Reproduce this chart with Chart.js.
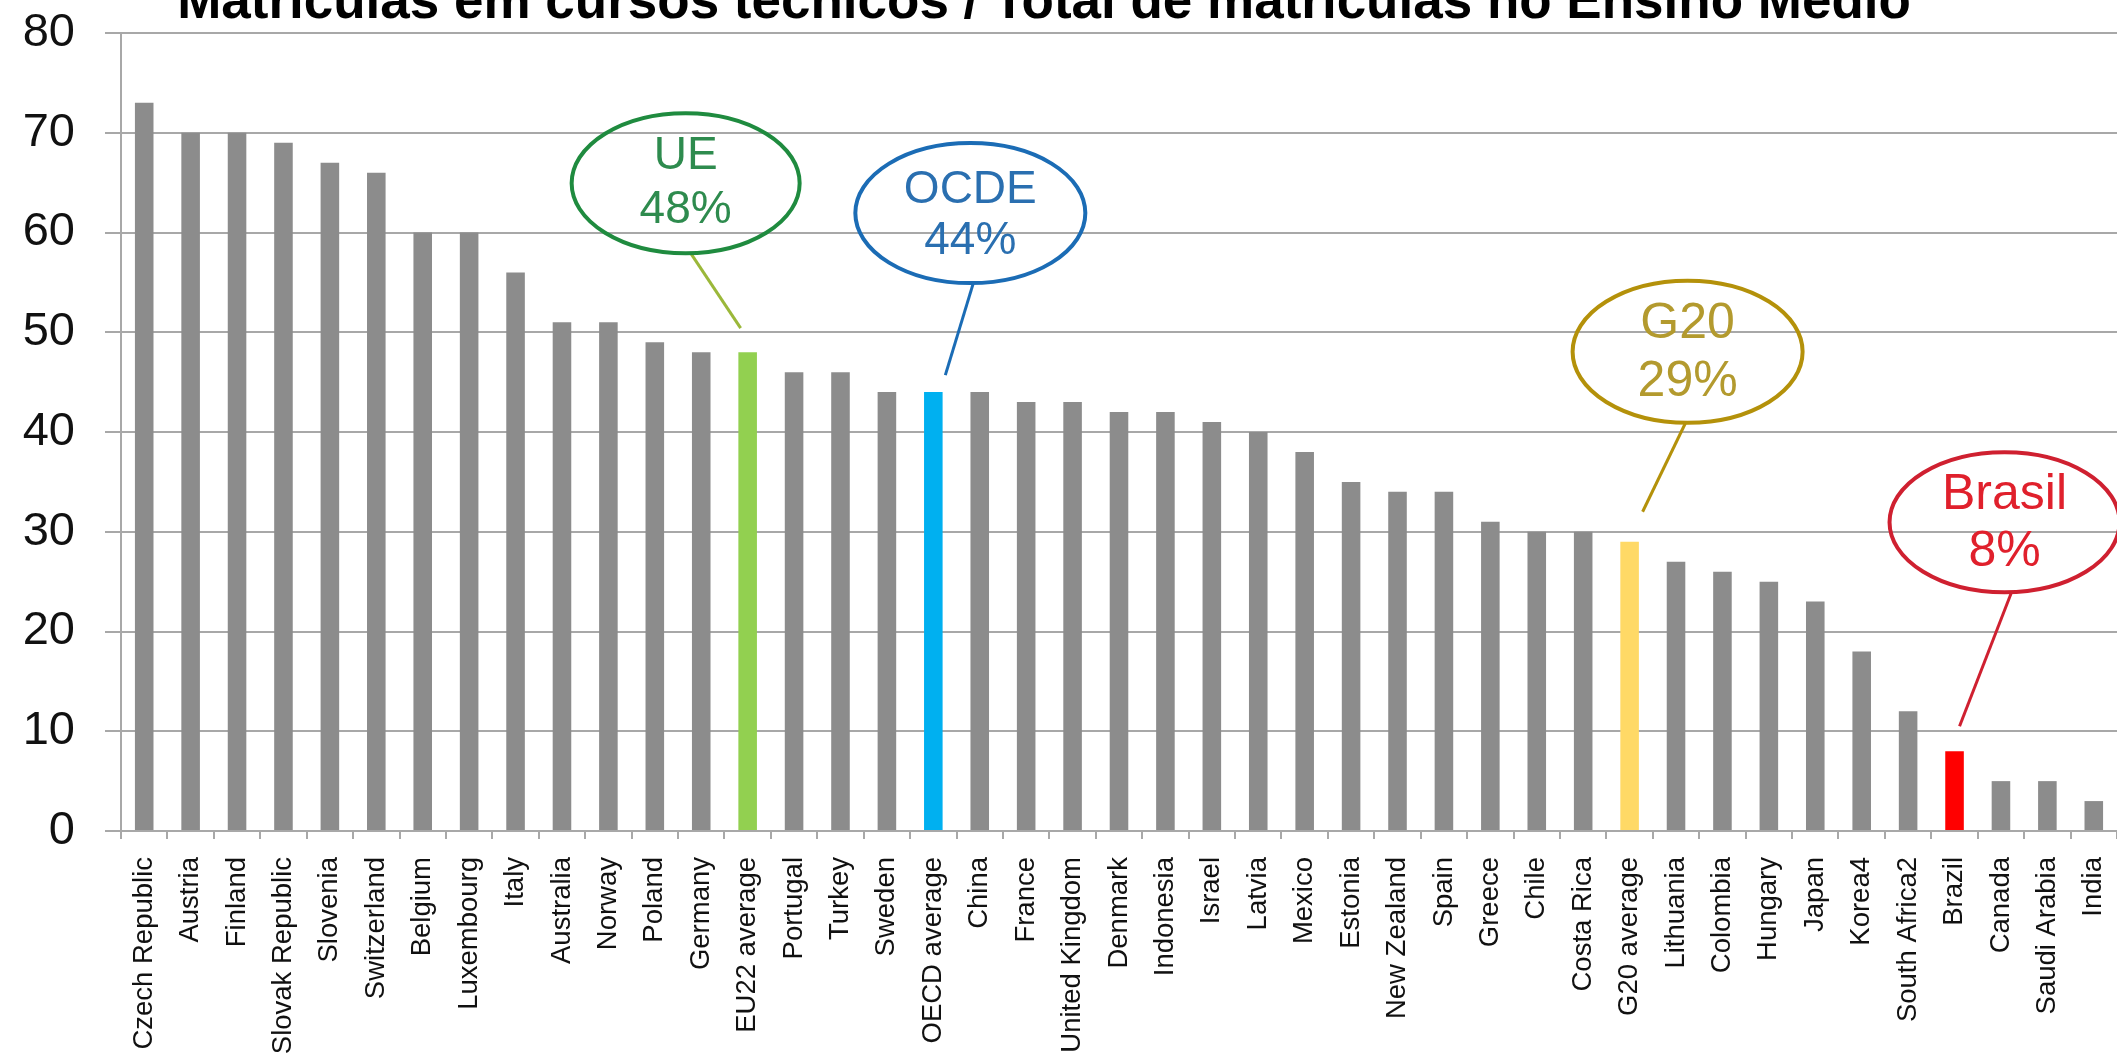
<!DOCTYPE html>
<html>
<head>
<meta charset="utf-8">
<script src="https://cdn.jsdelivr.net/npm/chart.js@4.4.1/dist/chart.umd.min.js"></script>
<style>
  html, body { margin: 0; padding: 0; background: #fff; overflow: hidden; }
  #wrap { width: 2117px; height: 1061px; position: relative; }
</style>
</head>
<body>
<div id="wrap"><canvas id="myChart"></canvas></div>
<script>
var chartTitle = 'Matrículas em cursos técnicos / Total de matrículas no Ensino Médio';

var categories = ['Czech Republic', 'Austria', 'Finland', 'Slovak Republic', 'Slovenia', 'Switzerland',
    'Belgium', 'Luxembourg', 'Italy', 'Australia', 'Norway', 'Poland', 'Germany', 'EU22 average',
    'Portugal', 'Turkey', 'Sweden', 'OECD average', 'China', 'France', 'United Kingdom', 'Denmark',
    'Indonesia', 'Israel', 'Latvia', 'Mexico', 'Estonia', 'New Zealand', 'Spain', 'Greece', 'Chile',
    'Costa Rica', 'G20 average', 'Lithuania', 'Colombia', 'Hungary', 'Japan', 'Korea4',
    'South Africa2', 'Brazil', 'Canada', 'Saudi Arabia', 'India'];

var values = [73, 70, 70, 69, 67, 66, 60, 60, 56, 51, 51, 49, 48, 48, 46, 46, 44, 44, 44, 43, 43,
    42, 42, 41, 40, 38, 35, 34, 34, 31, 30, 30, 29, 27, 26, 25, 23, 18, 12, 8, 5, 5, 3];

var yTicks = [0, 10, 20, 30, 40, 50, 60, 70, 80];

// highlighted bars
var highlightNames = ['EU22 average', 'OECD average', 'G20 average', 'Brazil'];
var highlightColors = ['#92d050', '#00b0f0', '#ffd966', '#ff0000'];

// callout bubbles (text per bubble)
var calloutNames = ['EU22 average', 'OECD average', 'G20 average', 'Brazil'];
var calloutTexts = [['UE', '48%'], ['OCDE', '44%'], ['G20', '29%'], ['Brasil', '8%']];

var FONT = "'Liberation Sans', Arial, Helvetica, sans-serif";
var GRID = '#a8a8a8';

// styling / placement of the bubbles, relative to the bar top
var calloutStyle = [
    { color: '#1f8b3f', text: '#2e8b4e', line: '#9bb83a', size: 46, dx: -62, dy: -169, rx: 114, ry: 70,
      lineY: [-27, 27], from: [5, 70], to: [-7, -24] },
    { color: '#1b6cb5', text: '#2a6fb0', line: '#1b6cb5', size: 46, dx: 37, dy: -179, rx: 115, ry: 70,
      lineY: [-23, 28], from: [3, 70], to: [12, -17] },
    { color: '#b4910a', text: '#b39a2e', line: '#b4910a', size: 50, dx: 58, dy: -190, rx: 115, ry: 71,
      lineY: [-28, 30], from: [-2, 71], to: [13, -30] },
    { color: '#cf2030', text: '#e0202c', line: '#cf2030', size: 50, dx: 50, dy: -229, rx: 115, ry: 70,
      lineY: [-27, 30], from: [7, 70], to: [5, -25] }
];

var barColors = categories.map(function (c) {
    var i = highlightNames.indexOf(c);
    return i >= 0 ? highlightColors[i] : '#8c8c8c';
});

var titlePlugin = {
    id: 'slideTitle',
    afterDraw: function (chart) {
        var ctx = chart.ctx;
        ctx.save();
        ctx.font = 'bold 53px ' + FONT;
        ctx.fillStyle = '#000';
        ctx.textAlign = 'center';
        ctx.textBaseline = 'alphabetic';
        ctx.fillText(chartTitle, 1044, 18);
        ctx.restore();
    }
};

var calloutPlugin = {
    id: 'callouts',
    afterDatasetsDraw: function (chart) {
        var ctx = chart.ctx;
        var xs = chart.scales.x, ys = chart.scales.y;
        ctx.save();
        calloutNames.forEach(function (name, k) {
            var idx = categories.indexOf(name);
            var st = calloutStyle[k];
            var bx = xs.getPixelForValue(idx);
            var by = ys.getPixelForValue(values[idx]);
            var cx = bx + st.dx, cy = by + st.dy;

            // pointer line
            ctx.beginPath();
            ctx.strokeStyle = st.line;
            ctx.lineWidth = 3;
            ctx.moveTo(cx + st.from[0], cy + st.from[1]);
            ctx.lineTo(bx + st.to[0], by + st.to[1]);
            ctx.stroke();

            // bubble
            ctx.beginPath();
            ctx.strokeStyle = st.color;
            ctx.lineWidth = 4;
            ctx.ellipse(cx, cy, st.rx, st.ry, 0, 0, Math.PI * 2);
            ctx.stroke();

            ctx.fillStyle = st.text;
            ctx.font = st.size + 'px ' + FONT;
            ctx.textAlign = 'center';
            ctx.textBaseline = 'middle';
            calloutTexts[k].forEach(function (t, j) {
                ctx.fillText(t, cx, cy + st.lineY[j]);
            });
        });
        ctx.restore();
    }
};

Chart.defaults.font.family = FONT;

var ctx = document.getElementById('myChart').getContext('2d');
var chart = new Chart(ctx, {
    type: 'bar',
    data: {
        labels: categories,
        datasets: [{
            data: values,
            backgroundColor: barColors,
            borderWidth: 0,
            barPercentage: 0.4,
            categoryPercentage: 1
        }]
    },
    options: {
        responsive: true,
        maintainAspectRatio: false,
        animation: false,
        layout: { padding: { top: 33, left: 0, right: 0, bottom: 0 } },
        plugins: {
            legend: { display: false },
            title: { display: false },
            tooltip: { enabled: false }
        },
        scales: {
            x: {
                grid: { drawOnChartArea: false, drawTicks: true, tickLength: 8, color: GRID, lineWidth: 2 },
                border: { color: GRID, width: 2 },
                ticks: {
                    autoSkip: false,
                    maxRotation: 90,
                    minRotation: 90,
                    padding: 18,
                    color: '#111',
                    font: { size: 27.5 }
                },
                afterFit: function (s) {
                    s.height = 230;
                    s.paddingLeft = 0;
                    s.paddingRight = 0;
                }
            },
            y: {
                min: 0,
                max: 80,
                afterBuildTicks: function (s) {
                    s.ticks = yTicks.map(function (v) { return { value: v }; });
                },
                grid: { color: GRID, lineWidth: 2, drawTicks: true, tickLength: 16 },
                border: { color: GRID, width: 2 },
                ticks: {
                    padding: 30,
                    color: '#111',
                    font: { size: 47 }
                },
                afterFit: function (s) {
                    s.width = 121;
                    s.paddingTop = 0;
                    s.paddingBottom = 0;
                }
            }
        }
    },
    plugins: [titlePlugin, calloutPlugin]
});
</script>
</body>
</html>
